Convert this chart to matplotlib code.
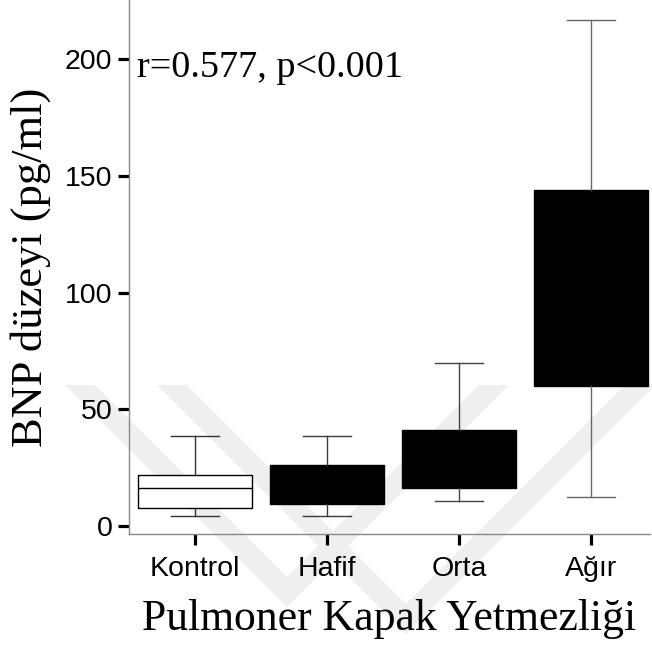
import matplotlib

matplotlib.use("Agg")
import matplotlib.pyplot as plt
from matplotlib.patches import Polygon

# box plot summary values (pg/ml)
groups = ["Kontrol", "Hafif", "Orta", "Ağır"]
q1 = [7.7, 9.4, 16.3, 60.0]
medians = [16.3, 19.3, 27.0, 94.6]
q3 = [21.8, 26.1, 41.1, 143.9]
whisker_low = [4.3, 4.3, 10.7, 12.4]
whisker_high = [38.5, 38.5, 69.8, 216.7]
box_colors = ["white", "black", "black", "black"]
whisker_colors = ["#333333", "#3a3a3a", "#444444", "#666666"]
y_ticks = [0, 50, 100, 150, 200]
annotation = "r=0.577, p<0.001"

W, H = 652, 646
fig = plt.figure(figsize=(W / 100, H / 100), dpi=100)


def px(x, y):
    """Pixel position (from top-left) to figure fraction."""
    return (x / W, 1 - y / H)


# faint background watermark chevrons
top = 385
band = 30
for c1, c2 in [(-320, 894), (-228, 1040)]:
    pts = [
        (top + c1, top),
        (top + c1 + band, top),
        ((c1 + c2) / 2, (c2 - c1) / 2 - band),
        (c2 - band - top, top),
        (c2 - top, top),
        ((c1 + c2) / 2, (c2 - c1) / 2),
    ]
    fig.patches.append(
        Polygon([px(*p) for p in pts], closed=True, transform=fig.transFigure,
                facecolor="#efefef", edgecolor="none", zorder=-1)
    )

ax = fig.add_axes([129 / W, (H - 534) / H, (650 - 129) / W, 534 / H])
ax.set_facecolor("none")

stats = [
    {"label": g, "q1": a, "med": m, "q3": b, "whislo": lo, "whishi": hi, "fliers": []}
    for g, a, m, b, lo, hi in zip(groups, q1, medians, q3, whisker_low, whisker_high)
]
positions = list(range(len(groups)))
art = ax.bxp(
    stats,
    positions=positions,
    widths=0.86,
    capwidths=0.37,
    patch_artist=True,
    showfliers=False,
    boxprops={"linewidth": 1.0, "edgecolor": "black"},
    medianprops={"color": "black", "linewidth": 1.0},
    whiskerprops={"linewidth": 1.0},
    capprops={"linewidth": 1.0},
)
for patch, color in zip(art["boxes"], box_colors):
    patch.set_facecolor(color)
for i, color in enumerate(whisker_colors):
    for line in art["whiskers"][2 * i:2 * i + 2] + art["caps"][2 * i:2 * i + 2]:
        line.set_color(color)

ax.set_xlim(-0.5, 3.447)
ax.set_ylim(-3.4, 225.3)
ax.set_yticks(y_ticks)
ax.set_xticks(positions)
ax.set_xticklabels(groups)

for side in ["top", "right"]:
    ax.spines[side].set_visible(False)
for side in ["left", "bottom"]:
    ax.spines[side].set_color("#888888")
    ax.spines[side].set_linewidth(1.0)

ax.tick_params(axis="both", colors="black", length=8, width=2.3, labelsize=20.5)
ax.tick_params(axis="y", pad=4)
ax.tick_params(axis="x", pad=8)
for lab in ax.get_xticklabels() + ax.get_yticklabels():
    lab.set_family("Liberation Sans")

ax.text(-0.44, 192.3, annotation, family="Liberation Serif", fontsize=27.5,
        va="baseline", ha="left")
ax.set_ylabel("BNP düzeyi (pg/ml)", family="Liberation Serif", fontsize=32,
              labelpad=10)
ax.set_xlabel("Pulmoner Kapak Yetmezliği", family="Liberation Serif",
              fontsize=31.5, labelpad=12)

fig.savefig("out.png", dpi=100)
plt.close(fig)
